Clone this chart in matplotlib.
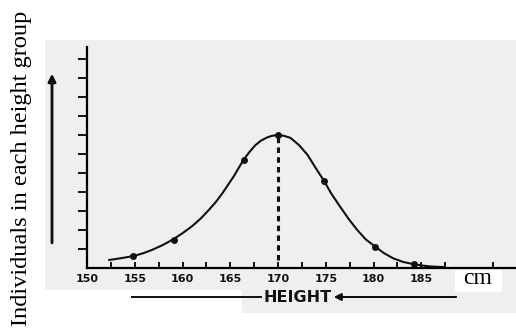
import matplotlib

matplotlib.use("Agg")

import matplotlib.pyplot as plt
from matplotlib.patches import Rectangle

# curve (height in cm, number of individuals in tick units)
curve_x = [152.3, 153.6, 154.9, 155.9, 156.8, 157.9, 159.0, 160.0, 161.0, 161.9,
           162.75, 163.5, 164.2, 164.8, 165.4, 165.9, 166.4, 167.0, 167.6, 168.2,
           168.9, 169.4, 170.0, 170.6, 171.3, 172.2, 173.1, 173.9, 174.8, 175.6,
           176.5, 177.4, 178.3, 179.2, 180.2, 181.1, 182.1, 183.1, 184.2, 185.1,
           186.0, 187.3]
curve_y = [0.42, 0.52, 0.63, 0.78, 0.95, 1.2, 1.5, 1.83, 2.2, 2.6,
           3.05, 3.48, 3.95, 4.4, 4.85, 5.28, 5.7, 6.1, 6.45, 6.7,
           6.88, 6.96, 7.0, 6.96, 6.85, 6.47, 5.95, 5.3, 4.6, 3.9,
           3.23, 2.58, 2.0, 1.5, 1.12, 0.78, 0.5, 0.32, 0.2, 0.13,
           0.08, 0.05]

# plotted points
mark_x = [154.8, 159.1, 166.4, 170.0, 174.8, 180.2, 184.2]
mark_y = [0.63, 1.5, 5.7, 7.0, 4.6, 1.1, 0.2]

tick_labels = [150, 155, 160, 165, 170, 175, 180, 185]
minor_ticks = [152.5, 157.5, 162.5, 167.5, 172.5, 177.5, 182.5, 187.5, 192.5]
y_ticks = [1, 2, 3, 4, 5, 6, 7, 8, 9, 10, 11]

W, H = 516, 328


def fx(px):
    return px / W


def fy(py):
    return 1 - py / H


fig = plt.figure(figsize=(W / 100, H / 100), dpi=100)
fig.patch.set_facecolor("white")

# scanned page background
fig.patches.append(Rectangle((fx(45), fy(290)), fx(516) - fx(45), fy(40) - fy(290),
                             transform=fig.transFigure, facecolor="#efefef",
                             edgecolor="none", zorder=-10))
fig.patches.append(Rectangle((fx(242), fy(313)), fx(516) - fx(242), fy(290) - fy(313),
                             transform=fig.transFigure, facecolor="#efefef",
                             edgecolor="none", zorder=-10))

ax = fig.add_axes([fx(87), fy(268), (516 - 87) / W, (268 - 47) / H])
ax.set_facecolor("none")
ax.set_xlim(150, 150 + 429 / 9.55)
ax.set_ylim(0, 221 / 19)

for side in ("top", "right"):
    ax.spines[side].set_visible(False)
for side in ("left", "bottom"):
    ax.spines[side].set_linewidth(1.6)

ax.plot(curve_x, curve_y, color="#111111", lw=1.5, solid_capstyle="round",
        solid_joinstyle="round")
ax.plot(mark_x, mark_y, "o", color="#111111", ms=5, markeredgewidth=0)
ax.vlines(mark_x[3], 0.4, mark_y[3], colors="#111111", lw=2.2,
          linestyles=(0, (1.8, 1.4)))

ax.set_yticks(y_ticks)
ax.set_yticklabels([])
ax.tick_params(axis="y", direction="out", length=6.5, width=1.3)

ax.set_xticks(tick_labels)
ax.set_xticklabels([str(t) for t in tick_labels], fontfamily="DejaVu Sans",
                   fontweight="bold", fontsize=8, color="#111111")
ax.set_xticks(minor_ticks, minor=True)
ax.tick_params(axis="x", which="both", direction="in", length=4.5, width=1.3, pad=4)

# y label and arrow
fig.text(fx(22), fy(168), "Individuals in each height group", rotation=90,
         ha="center", va="center", fontfamily="Liberation Serif", fontsize=17.6)
fig.add_artist(plt.annotate("", xy=(fx(52), fy(74)), xytext=(fx(52), fy(243)),
                            xycoords="figure fraction", textcoords="figure fraction",
                            arrowprops=dict(arrowstyle="-|>", lw=1.8, color="#111111",
                                            mutation_scale=11, shrinkA=0, shrinkB=0)))

# x label
fig.text(fx(298), fy(297), "HEIGHT", ha="center", va="center",
         fontfamily="DejaVu Sans", fontweight="bold", fontsize=11.5, color="#111111")
fig.add_artist(plt.Line2D([fx(132), fx(261)], [fy(297), fy(297)], lw=1.4,
                          color="#111111", transform=fig.transFigure))
fig.add_artist(plt.annotate("", xy=(fx(334), fy(297)), xytext=(fx(456), fy(297)),
                            xycoords="figure fraction", textcoords="figure fraction",
                            arrowprops=dict(arrowstyle="-|>", lw=1.4, color="#111111",
                                            mutation_scale=10, shrinkA=0, shrinkB=0)))

# unit label on white patch
fig.patches.append(Rectangle((fx(455), fy(292)), fx(502) - fx(455), fy(270) - fy(292),
                             transform=fig.transFigure, facecolor="white",
                             edgecolor="none", zorder=2))
fig.text(fx(478), fy(279), "cm", ha="center", va="center",
         fontfamily="Liberation Serif", fontsize=17, zorder=3)

fig.savefig("out.png", dpi=100)
plt.close(fig)
